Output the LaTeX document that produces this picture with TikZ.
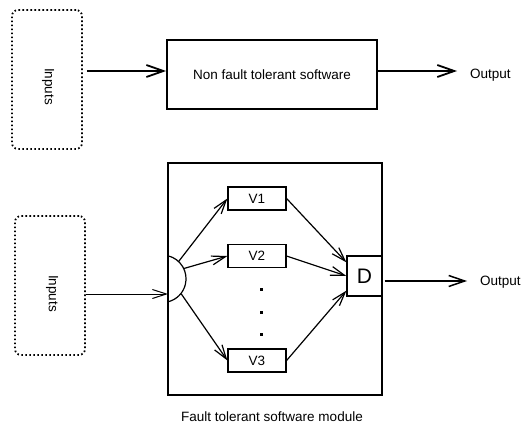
\documentclass[tikz,border=0pt]{standalone}
\usepackage{fontspec}
\setmainfont{Liberation Sans}
\usetikzlibrary{arrows.meta,calc}
\begin{document}
\begin{tikzpicture}[x=1pt,y=-1pt,
  font=\fontsize{13.5}{15}\selectfont,
  >={Straight Barb[length=14pt,width=9pt]},
  inbox/.style={draw,rounded corners=6pt,line width=1.8pt,
    dash pattern=on 1.6pt off 2.4pt,minimum width=70pt,inner sep=0pt},
  thickbox/.style={draw,line width=1.8pt,inner sep=0pt},
  thinbox/.style={draw,line width=1.2pt,inner sep=0pt},
  thickflow/.style={-{Straight Barb[length=17pt,width=12pt]},line width=1.8pt},
  thinflow/.style={->,line width=1.2pt},
  dotmark/.style={fill,rectangle,inner sep=0pt,minimum size=3pt},
  lbl/.style={inner sep=0pt}]
\useasboundingbox (0,0) rectangle (523,428);

% ---- non fault tolerant path ----
\node[inbox,minimum height=139pt] (inA) at (47,79.5) {};
\node[lbl,rotate=-90] (inAlbl) at (48,86.5) {Inputs};
\node[thickbox,minimum width=210pt,minimum height=69pt] (nft) at (272,74.5)
  {Non fault tolerant software};
\node[lbl,anchor=west] (outA) at (470,75) {Output};
\coordinate (lvlA) at (0,71);
\draw[thickflow,shorten <=4pt] (inA.east |- lvlA) -- (nft.west |- lvlA);
\draw[thickflow] (nft.east |- lvlA) -- ($(outA.west |- lvlA)+(-13pt,0)$);

% ---- fault tolerant module ----
\node[inbox,minimum height=139pt] (inB) at (50,285.5) {};
\node[lbl,rotate=-90] (inBlbl) at (52,293.5) {Inputs};
\node[thinbox,minimum width=214pt,minimum height=232pt] (mod) at (275,279) {};
\node[lbl] (cap) at (272,417) {Fault tolerant software module};

% splitter: arc sitting on the module's left wall
\node[circle,inner sep=0pt,minimum size=47.4pt] (sc) at (162.3,279) {};
\draw[line width=1.2pt] (sc.76) arc[start angle=76,end angle=-76,radius=23.7pt];

\node[thinbox,minimum width=58pt,minimum height=23pt] (v1) at (257,198.5) {V1};
\node[thinbox,minimum width=58pt,minimum height=23pt] (v2) at (257,256) {V2};
\node[thinbox,minimum width=58pt,minimum height=23pt] (v3) at (257,360.5) {V3};
\node[dotmark] (d1) at (261,289) {};
\node[dotmark] (d2) at (261,312) {};
\node[dotmark] (d3) at (261,334) {};

\node[thinbox,minimum width=35pt,minimum height=40pt,
  font=\fontsize{21}{23}\selectfont] (dec) at (364.5,276) {D};
\node[lbl,anchor=west] (outB) at (480,282) {Output};

\coordinate (feed) at (168,294);
\draw[->,line width=1pt] (inB.east |- feed) -- (feed);
\draw[thinflow] (sc.47) -- (v1.west);
\draw[thinflow] (sc.26) -- (v2.west);
\draw[thinflow] (sc.-38) -- (v3.west);
\draw[thinflow] (v1.east) -- (dec.143);
\draw[thinflow] (v2.east) -- (dec.west);
\draw[thinflow] (v3.east) -- (dec.219);
\coordinate (lvlB) at (0,281);
\draw[-{Straight Barb[length=16pt,width=11pt]},line width=1.5pt]
  ($(dec.east |- lvlB)+(2pt,0)$) -- ($(outB.west |- lvlB)+(-13pt,0)$);
\end{tikzpicture}
\end{document}
